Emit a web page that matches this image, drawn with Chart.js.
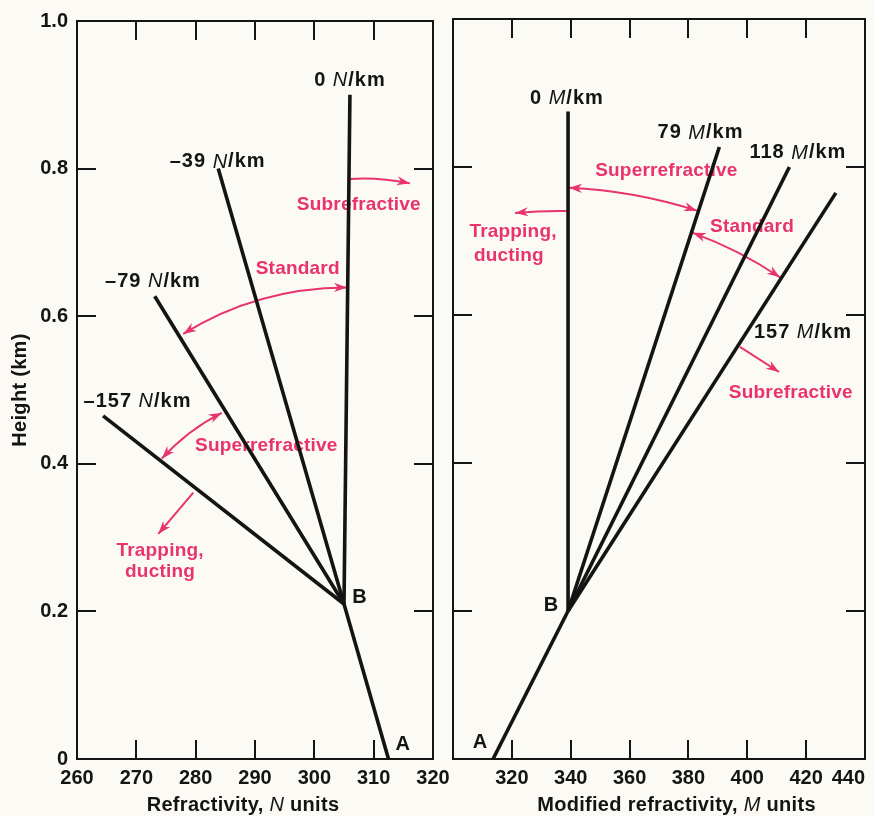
<!DOCTYPE html>
<html>
<head>
<meta charset="utf-8">
<script src="https://cdn.jsdelivr.net/npm/chart.js@4.4.1/dist/chart.umd.min.js"></script>
<style>
  html, body { margin: 0; padding: 0; background: #fcfaf4; }
  #wrap { position: relative; width: 875px; height: 816px; overflow: hidden; }
  #left { position: absolute; left: 0; top: 0; }
  #right { position: absolute; left: 440px; top: 0; }
</style>
</head>
<body>
<div id="wrap">
  <canvas id="left" width="455" height="816" style="width:455px;height:816px"></canvas>
  <canvas id="right" width="435" height="816" style="width:435px;height:816px"></canvas>
</div>
<script>
// ---- Refractivity profile (N units) ----
const nBaseValues   = [312.5, 305.0];          // points A and B
const nBaseHeights  = [0.0, 0.21];
const nGradients    = ['0', '–39', '–79', '–157'];
const nTopValues    = [306.0, 283.8, 273.1, 264.4];
const nTopHeights   = [0.90, 0.80, 0.627, 0.465];

// ---- Modified refractivity profile (M units) ----
const mBaseValues   = [313.6, 339.1];          // points A and B
const mBaseHeights  = [0.0, 0.20];
const mGradients    = ['0', '79', '118', '157'];
const mTopValues    = [339.1, 390.5, 414.3, 430.1];
const mTopHeights   = [0.875, 0.827, 0.800, 0.765];

// ---- Axis ticks ----
const nTicks      = [260, 270, 280, 290, 300, 310, 320];
const mTicks      = [300, 320, 340, 360, 380, 400, 420, 440];
const heightTicks = [0, 0.2, 0.4, 0.6, 0.8, 1.0];

const FONT = '"Liberation Sans", Arial, Helvetica, sans-serif';
const INK = '#141414';
const PINK = '#e8336c';

function buildDatasets(base, baseH, tops, topsH) {
  const sets = [[{ x: base[0], y: baseH[0] }, { x: base[1], y: baseH[1] }]];
  tops.forEach((v, i) => sets.push([{ x: base[1], y: baseH[1] }, { x: v, y: topsH[i] }]));
  return sets.map(data => ({
    data, showLine: true, fill: false, pointRadius: 0, pointHoverRadius: 0,
    borderColor: INK, borderWidth: 3.6, borderCapStyle: 'butt', tension: 0
  }));
}

// text with {X} marks an italic run
function drawRich(ctx, text, x, y, size, color, spacing) {
  const parts = text.split(/(\{[^}]*\})/).filter(Boolean)
    .map(p => p[0] === '{' ? { t: p.slice(1, -1), it: true } : { t: p, it: false });
  const fontFor = p => p.it ? `italic 400 ${size}px ${FONT}` : `bold ${size}px ${FONT}`;
  ctx.letterSpacing = (spacing || 0) + 'px';
  let total = 0;
  parts.forEach(p => { ctx.font = fontFor(p); p.w = ctx.measureText(p.t).width; total += p.w; });
  let cx = x - total / 2;
  ctx.fillStyle = color;
  ctx.textAlign = 'left';
  ctx.textBaseline = 'middle';
  parts.forEach(p => { ctx.font = fontFor(p); ctx.fillText(p.t, cx, y); cx += p.w; });
  ctx.letterSpacing = '0px';
}

function arrowHead(ctx, tip, from) {
  const ang = Math.atan2(tip.y - from.y, tip.x - from.x);
  ctx.save();
  ctx.translate(tip.x, tip.y);
  ctx.rotate(ang);
  ctx.beginPath();
  ctx.moveTo(0, 0);
  ctx.lineTo(-13, -4.6);
  ctx.lineTo(-9, 0);
  ctx.lineTo(-13, 4.6);
  ctx.closePath();
  ctx.fill();
  ctx.restore();
}

// Region notes and arrows (data coordinates)
const nNotes = [
  { text: 'Subrefractive',   at: [307.5, 0.751] },
  { text: 'Standard',        at: [297.2, 0.664] },
  { text: 'Superrefractive', at: [291.9, 0.424] },
  { text: 'Trapping,',       at: [274.0, 0.282] },
  { text: 'ducting',         at: [274.0, 0.254] }
];
const nArrows = [
  { from: [306.0, 0.786], via: [310.6, 0.789], to: [316.1, 0.780], both: false },
  { from: [305.5, 0.639], via: [290.3, 0.6385], to: [277.9, 0.576], both: true },
  { from: [284.4, 0.469], via: [278.7, 0.446], to: [274.3, 0.407], both: true },
  { from: [279.6, 0.361], via: [276.65, 0.333], to: [273.7, 0.305], both: false }
];
const nLabelAt = [[306.0, 0.920], [283.7, 0.809], [272.8, 0.647], [270.2, 0.485]];
const nPoints = [{ text: 'B', at: [307.6, 0.219] }, { text: 'A', at: [314.9, 0.019] }];

const mNotes = [
  { text: 'Superrefractive', at: [372.5, 0.795] },
  { text: 'Trapping,',       at: [320.4, 0.713] },
  { text: 'ducting',         at: [319.0, 0.680] },
  { text: 'Standard',        at: [401.6, 0.719] },
  { text: 'Subrefractive',   at: [414.8, 0.495] }
];
const mArrows = [
  { from: [339.4, 0.772], via: [361.6, 0.768], to: [382.9, 0.741], both: true },
  { from: [338.7, 0.7405], via: [329.9, 0.741], to: [321.1, 0.738], both: false },
  { from: [381.5, 0.711], via: [397.3, 0.688], to: [411.1, 0.651], both: true },
  { from: [397.5, 0.557], via: [404.15, 0.540], to: [410.8, 0.523], both: false }
];
const mLabelAt = [[338.7, 0.893], [384.1, 0.846], [417.2, 0.819], [418.9, 0.576]];
const mPoints = [{ text: 'B', at: [333.3, 0.208] }, { text: 'A', at: [309.2, 0.022] }];

function makePlugin(cfg) {
  return {
    id: 'profileDecor',
    beforeDatasetsDraw(chart) {
      const { ctx, scales: { x, y } } = chart;
      const P = p => ({ x: x.getPixelForValue(p[0]), y: y.getPixelForValue(p[1]) });
      ctx.save();
      cfg.notes.forEach(n => { const p = P(n.at); drawRich(ctx, n.text, p.x, p.y, 19, PINK, 0.2); });
      ctx.strokeStyle = PINK;
      ctx.fillStyle = PINK;
      ctx.lineWidth = 2;
      cfg.arrows.forEach(a => {
        const s = P(a.from), c = P(a.via), e = P(a.to);
        ctx.beginPath();
        ctx.moveTo(s.x, s.y);
        ctx.quadraticCurveTo(c.x, c.y, e.x, e.y);
        ctx.stroke();
        arrowHead(ctx, e, c);
        if (a.both) arrowHead(ctx, s, c);
      });
      ctx.restore();
    },
    afterDatasetsDraw(chart) {
      const { ctx, scales: { x, y } } = chart;
      const P = p => ({ x: x.getPixelForValue(p[0]), y: y.getPixelForValue(p[1]) });
      ctx.save();
      cfg.gradients.forEach((g, i) => {
        const p = P(cfg.labelAt[i]);
        drawRich(ctx, `${g} {${cfg.sym}}/km`, p.x, p.y, 20, INK, 1);
      });
      cfg.points.forEach(n => { const p = P(n.at); drawRich(ctx, n.text, p.x, p.y, 20, INK, 0); });
      ctx.restore();
    },
    afterDraw(chart) {
      const { ctx, chartArea: a, scales: { x, y } } = chart;
      ctx.save();
      ctx.strokeStyle = INK;
      ctx.lineWidth = 2;
      ctx.strokeRect(a.left, a.top, a.right - a.left, a.bottom - a.top);
      const tl = 19;
      ctx.beginPath();
      x.ticks.forEach(t => {
        if (t.value <= x.min || t.value >= x.max) return;
        const px = Math.round(x.getPixelForValue(t.value));
        ctx.moveTo(px, a.top); ctx.lineTo(px, a.top + tl);
        ctx.moveTo(px, a.bottom); ctx.lineTo(px, a.bottom - tl);
      });
      heightTicks.forEach(v => {
        if (v <= y.min || v >= y.max) return;
        const py = Math.round(y.getPixelForValue(v));
        ctx.moveTo(a.left, py); ctx.lineTo(a.left + tl, py);
        ctx.moveTo(a.right, py); ctx.lineTo(a.right - tl, py);
      });
      ctx.stroke();
      // axis titles
      drawRich(ctx, cfg.xTitle, cfg.xTitleX, 805, 20, INK, 0.3);
      if (cfg.yTitle) {
        ctx.translate(20, (a.top + a.bottom) / 2);
        ctx.rotate(-Math.PI / 2);
        drawRich(ctx, cfg.yTitle, 0, 0, 20, INK, 0.3);
      }
      ctx.restore();
    }
  };
}

const tickFont = { family: FONT, size: 20, weight: 'bold' };

function makeChart(id, opts) {
  return new Chart(document.getElementById(id), {
    type: 'scatter',
    data: { datasets: opts.datasets },
    options: {
      responsive: false,
      animation: false,
      events: [],
      layout: { padding: opts.padding },
      plugins: { legend: { display: false }, tooltip: { enabled: false } },
      scales: {
        x: {
          type: 'linear', min: opts.xTicks[0], max: opts.xTicks[opts.xTicks.length - 1],
          afterBuildTicks: s => { s.ticks = opts.xTicks.map(v => ({ value: v })); },
          afterFit: s => { s.height = 57; s.paddingLeft = 0; s.paddingRight = 0; },
          grid: { display: false, drawTicks: false },
          border: { display: false },
          ticks: {
            font: tickFont, color: INK, padding: 7, maxRotation: 0, autoSkip: false,
            align: opts.xAlign,
            callback: v => opts.hideFirst && v === opts.xTicks[0] ? '' : String(v)
          }
        },
        y: {
          type: 'linear', min: 0, max: 1, display: opts.showY,
          afterBuildTicks: s => { s.ticks = heightTicks.map(v => ({ value: v })); },
          afterFit: s => { s.width = opts.showY ? 77 : 0; },
          grid: { display: false, drawTicks: false },
          border: { display: false },
          ticks: {
            font: tickFont, color: INK, padding: 9,
            callback: v => v === 0 ? '0' : v.toFixed(1)
          }
        }
      }
    },
    plugins: [makePlugin(opts.decor)]
  });
}

makeChart('left', {
  datasets: buildDatasets(nBaseValues, nBaseHeights, nTopValues, nTopHeights),
  xTicks: nTicks, xAlign: 'center', hideFirst: false, showY: true,
  padding: { top: 19, right: 22, left: 0, bottom: 0 },
  decor: {
    notes: nNotes, arrows: nArrows, gradients: nGradients, labelAt: nLabelAt, sym: 'N',
    points: nPoints, xTitle: 'Refractivity, {N} units', xTitleX: 243, yTitle: 'Height (km)'
  }
});

makeChart('right', {
  datasets: buildDatasets(mBaseValues, mBaseHeights, mTopValues, mTopHeights),
  xTicks: mTicks, xAlign: 'inner', hideFirst: true, showY: false,
  padding: { top: 19, right: 10, left: 13, bottom: 0 },
  decor: {
    notes: mNotes, arrows: mArrows, gradients: mGradients, labelAt: mLabelAt, sym: 'M',
    points: mPoints, xTitle: 'Modified refractivity, {M} units', xTitleX: 236.5, yTitle: null
  }
});
</script>
</body>
</html>
